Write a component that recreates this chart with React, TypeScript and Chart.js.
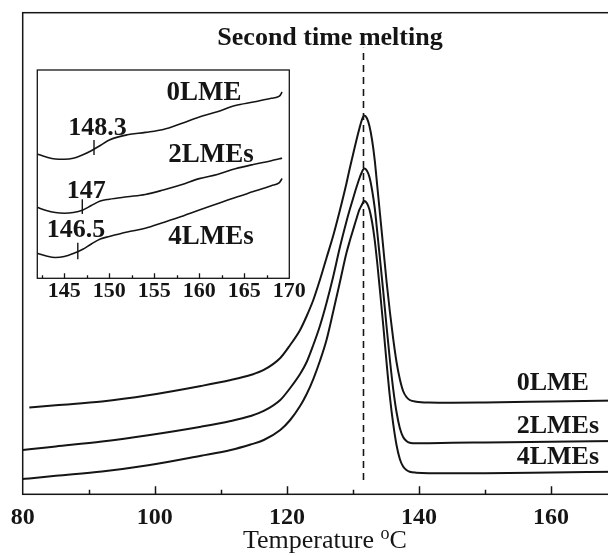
import React, { useEffect, useRef } from "react";
import { Chart, registerables } from "chart.js";

Chart.register(...registerables);

// ---------------- Main DSC curves (second melting) ----------------
const TEMPERATURE = [80, 81, 85, 92, 99, 107, 111.5, 114.5, 116.5, 119, 120.5, 122, 123, 124, 125, 126, 127, 128, 129, 129.5, 130, 130.5, 131, 131.3, 131.7, 132.1, 132.5, 132.9, 133.3, 133.7, 134.1, 134.6, 135.1, 135.6, 136.1, 136.6, 137.1, 137.6, 138.1, 138.6, 139.6, 141.5, 145, 150, 160, 170];
const HEAT_FLOW_0LME = [null, 18.02, 18.5, 19.27, 20.56, 22.49, 23.73, 24.77, 25.81, 28.3, 31.0, 34.12, 37.02, 40.34, 44.5, 49.07, 53.63, 58.83, 64.43, 67.55, 70.45, 73.36, 76.06, 77.51, 78.65, 78.13, 76.47, 73.57, 69.41, 63.81, 58.2, 51.14, 44.08, 37.85, 32.25, 27.47, 23.94, 21.45, 20.2, 19.58, 19.23, 19.06, 19.02, 19.08, 19.27, 19.46];
const HEAT_FLOW_2LMES = [9.2, 9.34, 9.93, 10.96, 12.27, 14.04, 15.22, 16.26, 17.3, 19.58, 22.07, 24.98, 27.47, 31.0, 34.95, 39.72, 45.12, 51.14, 56.54, 59.03, 61.32, 63.6, 65.68, 66.72, 67.65, 67.24, 65.89, 63.19, 59.45, 54.26, 48.86, 42.01, 34.74, 27.89, 21.86, 17.09, 13.77, 11.9, 11.07, 10.71, 10.59, 10.61, 10.69, 10.76, 10.9, 11.07];
const HEAT_FLOW_4LMES = [3.18, 3.3, 3.84, 4.73, 6.02, 8.01, 9.2, 10.34, 11.27, 13.35, 15.43, 18.33, 20.83, 23.94, 27.68, 32.04, 37.85, 43.88, 50.0, 52.49, 54.77, 57.06, 59.14, 59.97, 60.9, 60.49, 59.14, 56.54, 52.8, 47.82, 42.21, 34.95, 27.26, 20.2, 14.6, 10.24, 7.33, 5.77, 5.05, 4.69, 4.49, 4.38, 4.36, 4.38, 4.53, 4.69];
const PEAK_TEMPERATURE = 131.6;
const PEAK_LINE_Y = [2.97, 92.7];
const MAIN_X_LABELS = [80, 100, 120, 140, 160];
const SERIES_NAMES = ["0LME", "2LMEs", "4LMEs"];

// ---------------- Inset (glass-transition region) ----------------
const INSET_TEMPERATURE = [142, 143, 144, 145, 146, 147, 148, 149, 150, 152, 154, 156, 158, 160, 162, 164, 166, 168, 168.9, 169.2];
const INSET_0LME = [59.67, 58.23, 57.27, 57.13, 57.61, 59.19, 61.26, 63.75, 66.39, 68.89, 70.04, 71.44, 74.32, 77.44, 79.93, 82.96, 84.64, 86.46, 87.42, 89.44];
const INSET_2LMES = [34.09, 32.55, 31.59, 31.25, 31.59, 32.65, 34.95, 37.11, 37.97, 39.13, 40.23, 42.39, 44.89, 47.86, 49.83, 52.57, 54.63, 56.41, 57.42, 57.66];
const INSET_4LMES = [12.0, 10.71, 9.99, 10.47, 11.91, 13.83, 16.47, 18.87, 20.07, 22.23, 24.0, 26.79, 29.67, 32.79, 35.77, 38.79, 41.62, 44.46, 45.9, 47.91];
const INSET_X_LABELS = [145, 150, 155, 160, 165, 170];
const TG_VALUES = [148.3, 147, 146.5];
const TG_TEXT = ["148.3", "147", "146.5"];
const TG_MARK_LOW = [59.2, 30.87, 9.12];
const TG_MARK_HIGH = [66.4, 37.93, 17.09];

const TITLE = "Second time melting";
const X_TITLE = "Temperature ";
const X_UNIT_SUP = "o";
const X_UNIT = "C";

// ---------------- Layout / style (not data) ----------------
const FONT = '"Liberation Serif", "Times New Roman", serif';
const INK = "#151515";
const MAIN_W = 640;
const MAIN_H = 556;
const PLOT_LEFT = 22.7;
const PLOT_TOP = 12.7;
const PLOT_RIGHT = 617.1;
const PLOT_BOTTOM = 494.3;

const INSET_LEFT = 30;
const INSET_TOP = 60;
const INSET_W = 290;
const INSET_H = 250;

const MAIN_TEXT_POS = {
  title: { x: 126.53, y: 93.29 },
  names: [
    { x: 154.8, y: 21.66 },
    { x: 154.8, y: 12.67 },
    { x: 154.8, y: 6.29 },
  ],
};
const INSET_TEXT_POS = {
  names: [
    { x: 156.36, y: 85.6 },
    { x: 156.54, y: 55.98 },
    { x: 156.54, y: 16.46 },
  ],
  tg: [
    { x: 145.44, y: 68.8 },
    { x: 145.26, y: 38.4 },
    { x: 143.04, y: 20.0 },
  ],
};

function zip(xs: number[], ys: (number | null)[]) {
  return xs.map((x, i) => ({ x, y: ys[i] }));
}

function curve(data: any[], width: number) {
  return {
    data,
    borderColor: INK,
    borderWidth: width,
    pointRadius: 0,
    fill: false,
    cubicInterpolationMode: "monotone" as const,
    spanGaps: false,
  };
}

function framePlugin(id: string, lw: number, major: number, minor: number, isMajor: (v: number) => boolean) {
  return {
    id,
    afterDatasetsDraw(chart: any) {
      const { ctx, chartArea: a, scales } = chart;
      const xs = scales.x;
      ctx.save();
      ctx.strokeStyle = INK;
      ctx.lineWidth = lw;
      ctx.strokeRect(a.left, a.top, a.right - a.left, a.bottom - a.top);
      ctx.beginPath();
      for (const t of xs.ticks) {
        const v = t.value;
        if (v <= xs.min + 1e-6 || v >= xs.max - 1e-6) continue;
        const px = Math.round(xs.getPixelForValue(v)) + 0.5;
        const len = isMajor(v) ? major : minor;
        ctx.moveTo(px, a.bottom);
        ctx.lineTo(px, a.bottom - len);
      }
      ctx.stroke();
      ctx.restore();
    },
  };
}

const mainTextPlugin = {
  id: "mainText",
  afterDraw(chart: any) {
    const { ctx, scales, chartArea: a } = chart;
    const x = scales.x;
    const y = scales.y;
    ctx.save();
    ctx.fillStyle = INK;
    ctx.textBaseline = "alphabetic";
    ctx.font = `bold 26px ${FONT}`;
    ctx.textAlign = "center";
    ctx.fillText(TITLE, x.getPixelForValue(MAIN_TEXT_POS.title.x), y.getPixelForValue(MAIN_TEXT_POS.title.y));
    ctx.textAlign = "left";
    SERIES_NAMES.forEach((n, i) => {
      const p = MAIN_TEXT_POS.names[i];
      ctx.fillText(n, x.getPixelForValue(p.x), y.getPixelForValue(p.y));
    });
    const big = `26px ${FONT}`;
    const small = `18px ${FONT}`;
    ctx.font = big;
    const w1 = ctx.measureText(X_TITLE).width;
    const w3 = ctx.measureText(X_UNIT).width;
    ctx.font = small;
    const w2 = ctx.measureText(X_UNIT_SUP).width;
    const total = w1 + w2 + w3;
    const cx = (a.left + a.right) / 2 + 5;
    const base = a.bottom + 54;
    let sx = cx - total / 2;
    ctx.font = big;
    ctx.fillText(X_TITLE, sx, base);
    sx += w1;
    ctx.font = small;
    ctx.fillText(X_UNIT_SUP, sx, base - 9);
    sx += w2;
    ctx.font = big;
    ctx.fillText(X_UNIT, sx, base);
    ctx.restore();
  },
};

const insetTextPlugin = {
  id: "insetText",
  afterDraw(chart: any) {
    const { ctx, scales } = chart;
    const x = scales.x;
    const y = scales.y;
    ctx.save();
    ctx.fillStyle = INK;
    ctx.textBaseline = "alphabetic";
    ctx.textAlign = "left";
    ctx.font = `bold 27px ${FONT}`;
    SERIES_NAMES.forEach((n, i) => {
      const p = INSET_TEXT_POS.names[i];
      ctx.fillText(n, x.getPixelForValue(p.x), y.getPixelForValue(p.y));
    });
    ctx.font = `bold 26px ${FONT}`;
    TG_TEXT.forEach((t, i) => {
      const p = INSET_TEXT_POS.tg[i];
      ctx.fillText(t, x.getPixelForValue(p.x), y.getPixelForValue(p.y));
    });
    ctx.restore();
  },
};

export default function App() {
  const mainRef = useRef<HTMLCanvasElement>(null);
  const insetRef = useRef<HTMLCanvasElement>(null);

  useEffect(() => {
    const main = new Chart(mainRef.current!, {
      type: "line",
      data: {
        datasets: [
          curve(zip(TEMPERATURE, HEAT_FLOW_0LME), 2),
          curve(zip(TEMPERATURE, HEAT_FLOW_2LMES), 2),
          curve(zip(TEMPERATURE, HEAT_FLOW_4LMES), 2),
          {
            data: [
              { x: PEAK_TEMPERATURE, y: PEAK_LINE_Y[0] },
              { x: PEAK_TEMPERATURE, y: PEAK_LINE_Y[1] },
            ],
            borderColor: INK,
            borderWidth: 1.6,
            borderDash: [7, 5],
            pointRadius: 0,
            fill: false,
          },
        ] as any,
      },
      options: {
        animation: false,
        responsive: false,
        maintainAspectRatio: false,
        layout: { padding: { left: PLOT_LEFT, top: PLOT_TOP, right: MAIN_W - PLOT_RIGHT, bottom: 0 } },
        plugins: { legend: { display: false }, tooltip: { enabled: false }, title: { display: false } },
        scales: {
          x: {
            type: "linear",
            min: 80,
            max: 170,
            grid: { display: false, drawTicks: false, tickLength: 0 },
            border: { display: false },
            ticks: {
              stepSize: 10,
              autoSkip: false,
              maxRotation: 0,
              minRotation: 0,
              padding: 9,
              color: INK,
              font: { family: FONT, size: 24, weight: "bold" },
              callback: (v: any) => (MAIN_X_LABELS.includes(Number(v)) ? String(v) : ""),
            },
            afterFit: (s: any) => {
              s.height = MAIN_H - PLOT_BOTTOM;
            },
          },
          y: { type: "linear", display: false, min: 0, max: 100 },
        },
      } as any,
      plugins: [framePlugin("mainFrame", 1.5, 8, 4.5, (v) => v % 20 === 0), mainTextPlugin],
    });

    const inset = new Chart(insetRef.current!, {
      type: "line",
      data: {
        datasets: [
          curve(zip(INSET_TEMPERATURE, INSET_0LME), 1.6),
          curve(zip(INSET_TEMPERATURE, INSET_2LMES), 1.6),
          curve(zip(INSET_TEMPERATURE, INSET_4LMES), 1.6),
          ...TG_VALUES.map((t, i) => ({
            data: [
              { x: t, y: TG_MARK_LOW[i] },
              { x: t, y: TG_MARK_HIGH[i] },
            ],
            borderColor: INK,
            borderWidth: 1.4,
            pointRadius: 0,
            fill: false,
          })),
        ] as any,
      },
      options: {
        animation: false,
        responsive: false,
        maintainAspectRatio: false,
        layout: { padding: { left: 7.3, top: 10, right: 30.7, bottom: 0 } },
        plugins: { legend: { display: false }, tooltip: { enabled: false }, title: { display: false } },
        scales: {
          x: {
            type: "linear",
            min: 142,
            max: 170,
            grid: { display: false, drawTicks: false, tickLength: 0 },
            border: { display: false },
            ticks: {
              stepSize: 2.5,
              includeBounds: false,
              autoSkip: false,
              maxRotation: 0,
              minRotation: 0,
              padding: 0,
              color: INK,
              font: { family: FONT, size: 22, weight: "bold" },
              callback: (v: any) => (INSET_X_LABELS.includes(Number(v)) ? String(v) : ""),
            },
            afterFit: (s: any) => {
              s.height = 31.7;
            },
          },
          y: { type: "linear", display: false, min: 0, max: 100 },
        },
      } as any,
      plugins: [framePlugin("insetFrame", 1.3, 5, 3, (v) => v % 5 === 0), insetTextPlugin],
    });

    return () => {
      main.destroy();
      inset.destroy();
    };
  }, []);

  return (
    <div
      style={{
        position: "absolute",
        left: 0,
        top: 0,
        width: 608,
        height: 556,
        overflow: "hidden",
        background: "#fff",
      }}
    >
      <canvas
        ref={mainRef}
        width={MAIN_W}
        height={MAIN_H}
        style={{ position: "absolute", left: 0, top: 0, width: MAIN_W, height: MAIN_H, display: "block" }}
      />
      <canvas
        ref={insetRef}
        width={INSET_W}
        height={INSET_H}
        style={{ position: "absolute", left: INSET_LEFT, top: INSET_TOP, width: INSET_W, height: INSET_H, display: "block" }}
      />
    </div>
  );
}
